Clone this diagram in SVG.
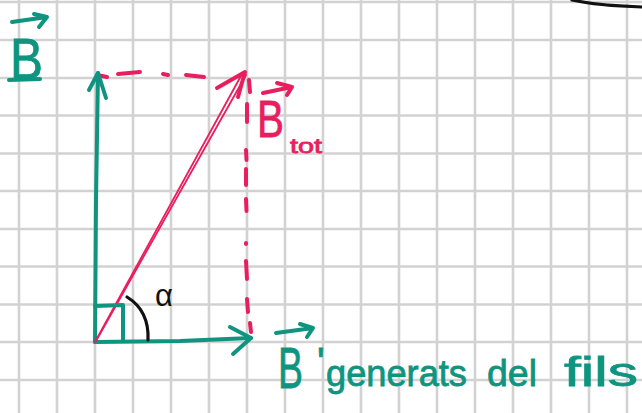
<svg xmlns="http://www.w3.org/2000/svg" width="642" height="413" viewBox="0 0 642 413">
<defs>
<style>
.grid line{stroke:#d2d2d2;stroke-width:2.6}
.teal{fill:none;stroke:#0f9480;stroke-width:4;stroke-linecap:round;stroke-linejoin:round}
.pink{fill:none;stroke:#e91e5f;stroke-width:4;stroke-linecap:round;stroke-linejoin:round}
.pinkthin{fill:none;stroke:#e91e5f;stroke-width:1.8;stroke-linecap:round}
.blk{fill:none;stroke:#111;stroke-width:3.2;stroke-linecap:round}
.tt{fill:#0f9480;stroke:#0f9480;stroke-width:0.8;font-family:"Liberation Sans",Arial,sans-serif}
.pt{fill:#e91e5f;stroke:#e91e5f;stroke-width:0.8;font-family:"Liberation Sans",Arial,sans-serif}
</style>
</defs>
<rect width="642" height="413" fill="#ffffff"/>
<g class="grid">
<line x1="19" y1="0" x2="19" y2="413"/><line x1="57" y1="0" x2="57" y2="413"/><line x1="95" y1="0" x2="95" y2="413"/><line x1="133" y1="0" x2="133" y2="413"/><line x1="171" y1="0" x2="171" y2="413"/><line x1="209" y1="0" x2="209" y2="413"/><line x1="247" y1="0" x2="247" y2="413"/><line x1="285" y1="0" x2="285" y2="413"/><line x1="323" y1="0" x2="323" y2="413"/><line x1="361" y1="0" x2="361" y2="413"/><line x1="399" y1="0" x2="399" y2="413"/><line x1="437" y1="0" x2="437" y2="413"/><line x1="475" y1="0" x2="475" y2="413"/><line x1="513" y1="0" x2="513" y2="413"/><line x1="551" y1="0" x2="551" y2="413"/><line x1="589" y1="0" x2="589" y2="413"/><line x1="627" y1="0" x2="627" y2="413"/>
<line x1="0" y1="2" x2="642" y2="2"/><line x1="0" y1="40" x2="642" y2="40"/><line x1="0" y1="78" x2="642" y2="78"/><line x1="0" y1="115.5" x2="642" y2="115.5"/><line x1="0" y1="153.5" x2="642" y2="153.5"/><line x1="0" y1="191" x2="642" y2="191"/><line x1="0" y1="229" x2="642" y2="229"/><line x1="0" y1="266.5" x2="642" y2="266.5"/><line x1="0" y1="304.5" x2="642" y2="304.5"/><line x1="0" y1="342" x2="642" y2="342"/><line x1="0" y1="380" x2="642" y2="380"/>
</g>
<path class="blk" d="M572,0 C590,4 610,6 642,7"/>
<g id="connectors">
<g id="guides">
<path class="pink" d="M97,75 L107,77 M118,74 L140,72 M163,74 L168,75 M186,75 L204,77"/>
<path class="pink" d="M249,80 L250,92 M247,104 L247,122 M246,150 L246.5,160 M246,169 L246,185 M246,199 L246.5,211 M246,243 L246,244 M246,261 L247,279 M247,299 L248,312 M250,323 L251,332"/>
</g>
<g id="vec-B">
<path class="teal" d="M95,342 L96,200 L98,73"/>
<path class="teal" d="M89,90 L98,73 L106,98"/>
</g>
<g id="vec-Bprime">
<path class="teal" d="M95,342 L180,341 L251,338"/>
<path class="teal" d="M230,327 L251,338 L233,354"/>
</g>
<g id="vec-Btot">
<path class="pinkthin" d="M95,342 L242,74"/>
<path class="pinkthin" d="M96,341 L246,75"/>
<path class="pink" d="M217,88 L245,72 L238,97"/>
</g>
<g id="right-angle">
<path class="teal" d="M95,306 L123,305 L123,341"/>
</g>
<path id="angle-arc" class="blk" d="M127,297 C140,305 149,318 148,340"/>
</g>
<g id="label-B">
<text class="tt" x="10" y="79" font-size="58" textLength="33" lengthAdjust="spacingAndGlyphs">B</text>
<path class="teal" d="M12,22 L47,17 M34,14 L47,17 L39,27" stroke-width="3.5"/>
<path class="teal" d="M9,80 L40,79" stroke-width="3"/>
</g>
<g id="label-Btot">
<text class="pt" x="257" y="137" font-size="52" textLength="27" lengthAdjust="spacingAndGlyphs">B</text>
<text class="pt" x="290" y="153" font-size="21" textLength="32" lengthAdjust="spacingAndGlyphs">tot</text>
<path class="pink" d="M263,93 L292,87 M277,83 L292,87 L287,95" stroke-width="3.5"/>
</g>
<g id="label-alpha">
<text x="155" y="306" font-size="31" fill="#111" font-family="Liberation Sans,Arial,sans-serif">α</text>
</g>
<g id="label-Bprime">
<path class="teal" d="M276,333 L313,328 M300,324 L313,328 L307,337" stroke-width="3.5"/>
<text class="tt" font-size="37" y="386"><tspan x="278" y="388" font-size="57" textLength="25" lengthAdjust="spacingAndGlyphs">B</tspan><tspan x="317" y="376" font-size="40">'</tspan><tspan x="326" y="386" textLength="141" lengthAdjust="spacingAndGlyphs">generats</tspan><tspan x="487" textLength="50" lengthAdjust="spacingAndGlyphs">del</tspan><tspan x="564" font-size="41" textLength="74" lengthAdjust="spacingAndGlyphs">fils</tspan></text>
</g>
</svg>
